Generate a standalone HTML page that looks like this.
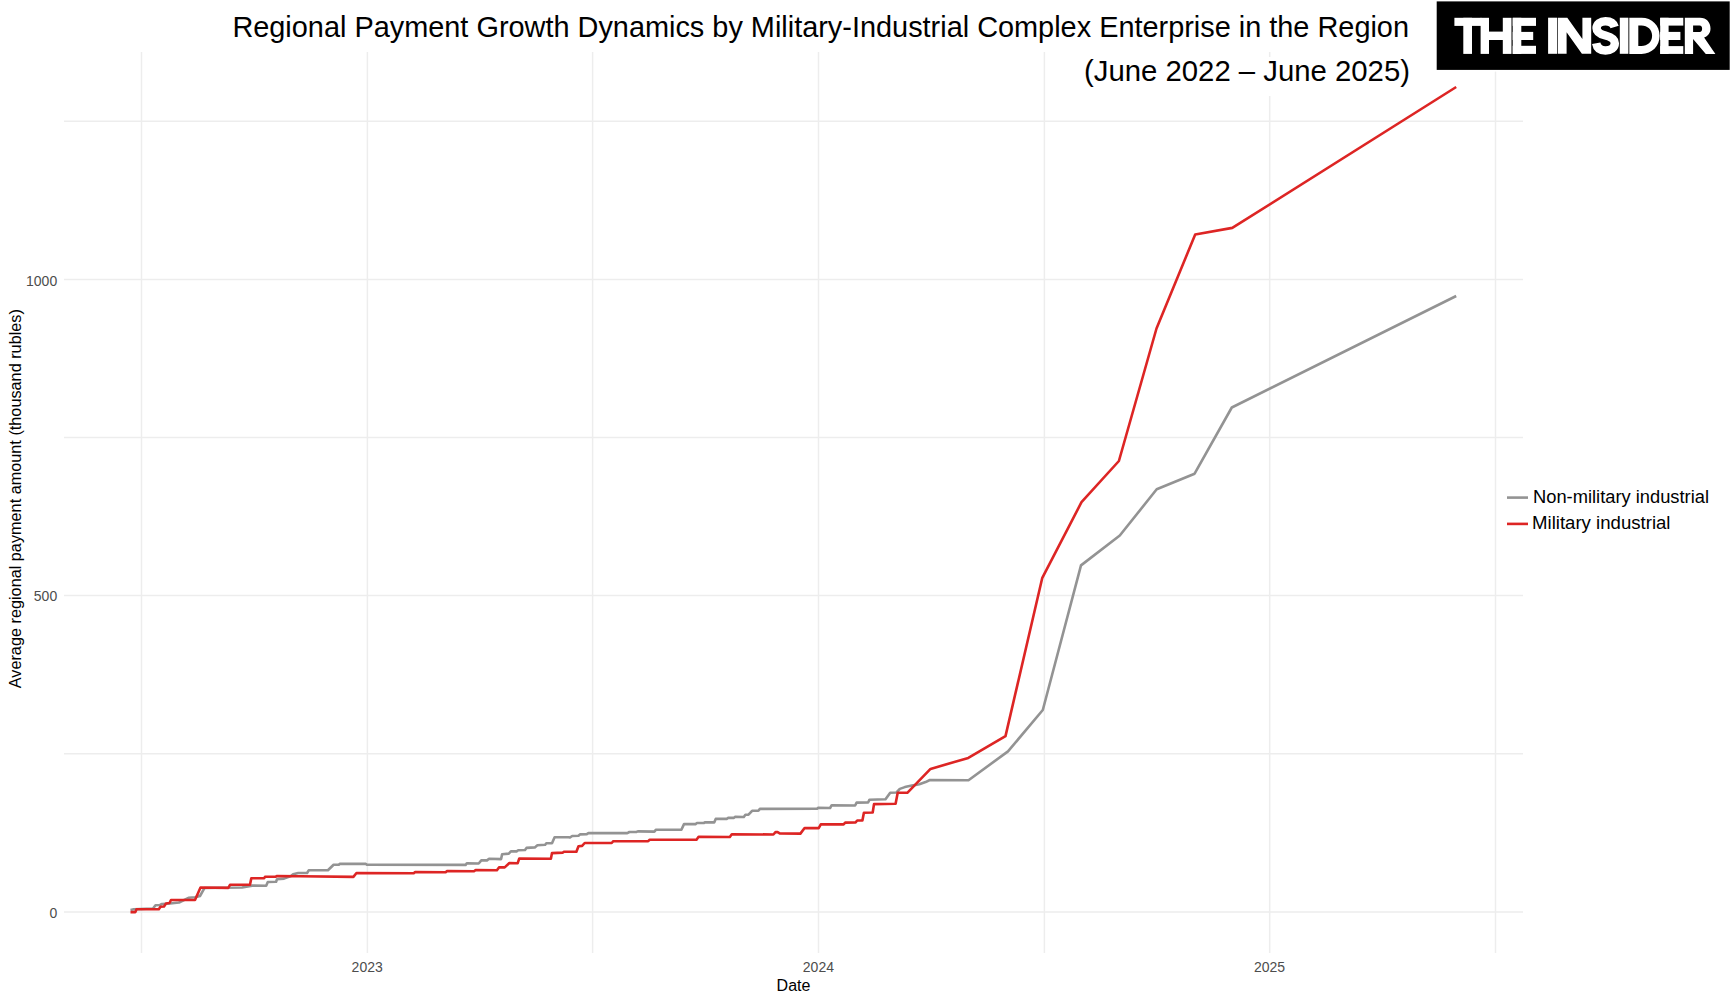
<!DOCTYPE html>
<html><head><meta charset="utf-8"><style>
html,body{margin:0;padding:0;background:#fff;width:1732px;height:1003px;overflow:hidden}
svg{display:block}
text{font-family:"Liberation Sans",sans-serif}
.gM{stroke:#ededed;stroke-width:1.5}
.gm{stroke:#ededed;stroke-width:1.5}
.ax{font-size:14px;fill:#4d4d4d}
</style></head><body>
<svg width="1732" height="1003" viewBox="0 0 1732 1003">
<rect x="0" y="0" width="1732" height="1003" fill="#fff"/>
<line x1="64" x2="1523" y1="753.7" y2="753.7" class="gm"/>
<line x1="64" x2="1523" y1="437.5" y2="437.5" class="gm"/>
<line x1="64" x2="1523" y1="121.3" y2="121.3" class="gm"/>
<line x1="141.5" x2="141.5" y1="52" y2="953" class="gm"/>
<line x1="592.6" x2="592.6" y1="52" y2="953" class="gm"/>
<line x1="1044.4" x2="1044.4" y1="52" y2="953" class="gm"/>
<line x1="1495.5" x2="1495.5" y1="52" y2="953" class="gm"/>
<line x1="64" x2="1523" y1="912.0" y2="912.0" class="gM"/>
<line x1="64" x2="1523" y1="595.6" y2="595.6" class="gM"/>
<line x1="64" x2="1523" y1="279.5" y2="279.5" class="gM"/>
<line x1="367.4" x2="367.4" y1="52" y2="953" class="gM"/>
<line x1="818.5" x2="818.5" y1="52" y2="953" class="gM"/>
<line x1="1269.7" x2="1269.7" y1="52" y2="953" class="gM"/>
<polyline points="130.5,910 133.8,909.3 153,908.5 155.5,905.3 160,905 162,904 170,903.5 179,902.5 188.5,897.8 195,897.3 200,896 203.3,890.2 204.6,888 242,887.5 252.2,885.6 266.2,885.7 267.8,882 276.1,881.8 277,879.2 284,878.6 291,876 293.1,874.3 298.3,873 307.1,873 308.7,870.3 327.9,870.3 333.6,864.7 338.8,864.7 339.9,863.7 365.9,863.9 366.9,864.7 465.6,864.9 466.8,863.2 478.7,863.5 481.3,860.4 487,860.4 489.1,858.8 501.1,859.1 502.1,854.2 508.8,853.6 510.9,851.4 516.6,851.4 518.2,850.3 525,850 526.5,847.9 534.8,847.4 537.4,845.3 545.2,844.8 546.3,843.3 552,843.3 554.6,837.2 568.6,837.2 570,837.5 572.2,836 578.5,835.8 580,834.4 586.8,834.1 588.4,833.1 627.3,833.1 629.4,832 636.2,832 637.8,831.4 654.4,831.6 656,829.7 681.4,829.7 684,824.1 695.5,824.1 697,823 703.8,823 705.3,822.2 714.2,822.4 715.7,818.9 726.7,818.9 728.2,817.9 733.9,817.9 735,816.8 743.8,817 745.4,814.7 748.5,814.7 752.1,810.8 758.4,810.8 759.9,808.9 817.1,808.8 818.2,807.8 830.1,808 831.7,805.2 855.1,805.5 856.6,802.6 868.1,802.5 869.5,799.7 885.5,799.3 890.2,792.7 896.5,792.5 899.8,788.9 904.8,787.1 911.8,785.6 919.3,784.2 925.6,782.1 929.9,780 968.5,780.2 1008,751.4 1042.8,710 1081,565.4 1119.8,535.5 1156.7,489.3 1194.6,473.7 1231.8,407.5 1456.2,296" fill="none" stroke="#939393" stroke-width="2.6" stroke-linejoin="round"/>
<polyline points="130.5,912.1 135.4,912.1 136.5,909.3 158.8,909.3 160.5,906.8 164,906.5 166,903.5 169.5,903 171,900 195,900 200.5,887.5 228.3,887.9 230,884.8 250,884.8 251.3,878.2 264.2,878.2 265,876.8 275.8,876.6 276.7,876 300,876.3 353.4,876.9 356.5,873 413.7,873.3 415.2,872 445.9,872.2 446.9,871 474,871.2 475.6,870.1 496.9,870.3 499,867.4 504.7,867.4 509.4,863 517.7,863.2 519.2,858.6 550.9,858.8 552,853.1 562.9,852.6 563.9,851.8 576.4,851.8 578.5,846.2 582.1,845.9 584.7,843 611.7,843 613.3,841.2 648.2,841.1 649.7,839.7 696.5,839.7 698.6,836.8 729.8,837 731.8,834.2 773.4,834.5 775.5,832.1 777.6,832.1 779.7,833.4 800.4,833.6 804.6,828 818.7,828.1 820.8,824.4 843.6,824.4 845.2,822.6 855.6,822.4 857.2,820.5 862.4,820.5 863.9,812.7 872.7,812.5 874,804.1 895.6,803.8 897.7,792.8 907.3,792.8 930.5,768.9 968.3,757.9 1005.5,736.1 1042.3,577.8 1081.5,502.2 1118.9,461 1156.5,328.5 1195.2,234.5 1232.3,227.9 1456.2,87" fill="none" stroke="#dd2524" stroke-width="2.6" stroke-linejoin="round"/>
<rect x="1080" y="57" width="352" height="39" fill="#fff"/>
<text x="1409" y="37.4" font-size="30" text-anchor="end" fill="#000" textLength="1176.6" lengthAdjust="spacingAndGlyphs">Regional Payment Growth Dynamics by Military-Industrial Complex Enterprise in the Region</text>
<text x="1410" y="80.6" font-size="30" text-anchor="end" fill="#000" textLength="326" lengthAdjust="spacingAndGlyphs">(June 2022 – June 2025)</text>
<rect x="1434" y="0" width="298" height="71.6" fill="#fff"/>
<rect x="1436.7" y="1.4" width="293" height="68.5" fill="#000"/>
<g fill="#fff">
<rect x="1454.4" y="17.8" width="27" height="8.1"/>
<rect x="1463.3" y="17.8" width="8.7" height="36.1"/>
<rect x="1480.6" y="17.8" width="8.4" height="36.1"/>
<rect x="1502.8" y="17.8" width="8.7" height="36.1"/>
<rect x="1488.5" y="31.6" width="14.8" height="8.4"/>
<rect x="1512.7" y="17.8" width="8.6" height="36.1"/>
<rect x="1512.7" y="17.8" width="23.3" height="8.1"/>
<rect x="1512.7" y="31.9" width="20.5" height="8.1"/>
<rect x="1512.7" y="45.8" width="23.3" height="8.1"/>
<rect x="1548.1" y="17.7" width="8.9" height="36.1"/>
<polygon points="1557.7,17.7 1567.3,17.7 1582.4,39.0 1582.4,17.7 1591.2,17.7 1591.2,53.8 1581.9,53.8 1566.6,32.3 1566.6,53.8 1557.7,53.8"/>
<rect x="1619.8" y="17.7" width="8.6" height="36.1"/>
<path fill-rule="evenodd" d="M1629.3 17.8 H1641.5 C1652 17.8 1659.6 25.5 1659.6 35.85 C1659.6 46.2 1652 53.9 1641.5 53.9 H1629.3 Z M1638.3 25.6 H1641.5 C1647.5 25.6 1652.1 29.8 1652.1 35.85 C1652.1 41.9 1647.5 46.1 1641.5 46.1 H1638.3 Z"/>
<rect x="1660.2" y="17.8" width="8.4" height="36.1"/>
<rect x="1660.2" y="17.8" width="23.1" height="7.8"/>
<rect x="1660.2" y="31.9" width="20.2" height="8.1"/>
<rect x="1660.2" y="46.1" width="23.1" height="7.8"/>
<path fill-rule="evenodd" d="M1684.8 17.8 H1700 C1706.5 17.8 1710.5 22.5 1710.5 28.5 C1710.5 33 1707.8 36.3 1704.1 37.4 L1715.4 53.9 H1705.8 L1693.1 39.1 V53.9 H1684.8 Z M1693.1 25.6 H1699.5 C1701.5 25.6 1702.1 27 1702.1 28.7 C1702.1 30.5 1701.5 31.9 1699.5 31.9 H1693.1 Z"/>
</g>
<path d="M1614.6 27 C1613.5 23 1610 21.2 1605.5 21.2 C1600.5 21.2 1596.6 23.8 1596.6 28.2 C1596.6 32.8 1601 34.3 1605.5 35.5 C1610.5 36.8 1614.8 38.5 1614.8 43.2 C1614.8 47.8 1610.8 50.4 1605.5 50.4 C1600.3 50.4 1597 47.8 1596.2 43.2" fill="none" stroke="#fff" stroke-width="8.5"/>
<g class="ax" text-anchor="end">
<text x="57.2" y="918">0</text>
<text x="57.2" y="601.2">500</text>
<text x="57.2" y="285.6">1000</text>
</g>
<g class="ax" text-anchor="middle">
<text x="367.2" y="972">2023</text>
<text x="818.4" y="972">2024</text>
<text x="1269.6" y="972">2025</text>
</g>
<text x="793.5" y="991" font-size="16" text-anchor="middle" fill="#000">Date</text>
<text transform="translate(21.2 498.7) rotate(-90)" font-size="16.25" text-anchor="middle" fill="#000">Average regional payment amount (thousand rubles)</text>
<line x1="1507" x2="1528" y1="497.6" y2="497.6" stroke="#939393" stroke-width="2.6"/>
<line x1="1507" x2="1528" y1="523.9" y2="523.9" stroke="#dd2524" stroke-width="2.6"/>
<text x="1533" y="503" font-size="17.5" fill="#000" textLength="176" lengthAdjust="spacingAndGlyphs">Non-military industrial</text>
<text x="1532" y="528.8" font-size="17.5" fill="#000" textLength="138.5" lengthAdjust="spacingAndGlyphs">Military industrial</text>
</svg>
</body></html>
